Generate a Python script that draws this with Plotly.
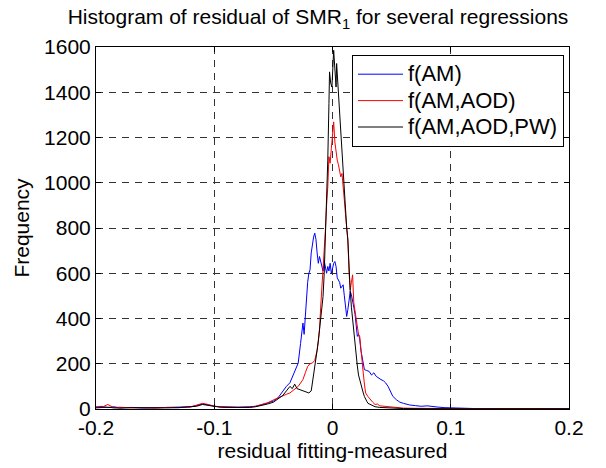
import plotly.graph_objects as go

# ---------------- data ----------------
am_x = [-0.2, -0.195, -0.19, -0.185, -0.18, -0.17, -0.16, -0.15, -0.14, -0.13, -0.12, -0.115, -0.11, -0.105,
        -0.1, -0.095, -0.09, -0.08, -0.07, -0.065, -0.06, -0.055, -0.05, -0.046, -0.042, -0.039, -0.036,
        -0.033, -0.031, -0.029, -0.027, -0.025, -0.024, -0.023, -0.022, -0.021, -0.020, -0.019, -0.018,
        -0.017, -0.016, -0.015, -0.014, -0.013, -0.012, -0.011, -0.010, -0.009, -0.008, -0.007, -0.006,
        -0.005, -0.004, -0.003, -0.002, -0.001, 0.000, 0.001, 0.002, 0.003, 0.004, 0.005, 0.006, 0.007,
        0.008, 0.009, 0.010, 0.011, 0.012, 0.013, 0.014, 0.015, 0.016, 0.017, 0.018, 0.019, 0.020, 0.021,
        0.022, 0.023, 0.024, 0.025, 0.026, 0.027, 0.029, 0.031, 0.033, 0.035, 0.037, 0.039, 0.041, 0.043,
        0.045, 0.047, 0.049, 0.051, 0.054, 0.057, 0.06, 0.065, 0.07, 0.075, 0.08, 0.085, 0.09, 0.095, 0.1,
        0.11, 0.12, 0.14, 0.16, 0.18, 0.2]
am_y = [8, 12, 6, 10, 5, 7, 4, 6, 5, 8, 10, 15, 22, 18,
        12, 10, 9, 8, 10, 12, 18, 25, 35, 50, 80, 100, 116,
        150, 175, 203, 290, 380, 330, 420, 497, 560, 600, 615, 690,
        733, 760, 777, 750, 690, 644, 674, 650, 630, 610, 655, 620,
        600, 630, 610, 644, 600, 620, 644, 652, 630, 580, 571, 560, 534,
        545, 549, 500, 440, 409, 440, 497, 520, 505, 483, 450, 420, 360, 321,
        330, 310, 260, 232, 200, 174, 170, 166, 150, 160, 144, 135, 130, 125,
        115, 100, 75, 56, 41, 30, 25, 18, 15, 12, 14, 10, 8, 6, 5,
        3, 2, 2, 1, 1, 1]

aod_x = [-0.2, -0.195, -0.19, -0.185, -0.18, -0.17, -0.16, -0.15, -0.14, -0.13, -0.12, -0.115, -0.11, -0.105,
         -0.1, -0.095, -0.09, -0.08, -0.07, -0.065, -0.06, -0.055, -0.05, -0.046, -0.042, -0.039, -0.036,
         -0.033, -0.031, -0.029, -0.027, -0.025, -0.023, -0.021, -0.019, -0.017, -0.015, -0.014, -0.013,
         -0.012, -0.011, -0.010, -0.009, -0.008, -0.007, -0.006, -0.005, -0.004, -0.003, -0.002, -0.001,
         0.000, 0.001, 0.002, 0.003, 0.004, 0.005, 0.006, 0.007, 0.008, 0.009, 0.010, 0.011, 0.012, 0.013,
         0.014, 0.015, 0.016, 0.017, 0.018, 0.019, 0.020, 0.021, 0.022, 0.023, 0.024, 0.025, 0.026, 0.027,
         0.028, 0.030, 0.032, 0.034, 0.036, 0.038, 0.040, 0.045, 0.05, 0.055, 0.06, 0.07, 0.08, 0.1, 0.12,
         0.15, 0.18, 0.2]
aod_y = [10, 8, 20, 6, 8, 5, 6, 4, 7, 6, 9, 18, 25, 20,
         12, 10, 8, 7, 8, 12, 20, 27, 40, 50, 60, 65, 71,
         85, 95, 100, 115, 130, 160, 188, 200, 203, 215, 232, 260,
         300, 350, 450, 530, 600, 700, 791, 900, 980, 1115, 1086, 1150,
         1220, 1269, 1180, 1130, 1100, 1080, 1056, 1026, 1041, 960, 924, 860, 800, 747,
         600, 527, 560, 593, 470, 430, 394, 360, 330, 321, 260, 190, 159, 110,
         71, 55, 41, 30, 20, 22, 14, 12, 8, 5, 4, 3, 2, 2, 1,
         2, 1, 1]

pw_x = [-0.2, -0.195, -0.19, -0.185, -0.18, -0.17, -0.16, -0.15, -0.14, -0.13, -0.12, -0.115, -0.11, -0.105,
        -0.1, -0.095, -0.09, -0.08, -0.07, -0.065, -0.06, -0.055, -0.05, -0.046, -0.042, -0.039, -0.036,
        -0.034, -0.032, -0.030, -0.028, -0.026, -0.024, -0.022, -0.020, -0.018, -0.017, -0.016, -0.015,
        -0.014, -0.013, -0.012, -0.011, -0.010, -0.009, -0.008, -0.007, -0.006, -0.005, -0.004, -0.003,
        -0.0025, -0.0015, -0.0005, 0.001, 0.002, 0.003, 0.0035, 0.005, 0.006, 0.007, 0.008, 0.009, 0.010,
        0.011, 0.012, 0.013, 0.014, 0.015, 0.016, 0.017, 0.018, 0.019, 0.020, 0.021, 0.022, 0.023, 0.024,
        0.025, 0.026, 0.027, 0.028, 0.029, 0.030, 0.032, 0.034, 0.036, 0.04, 0.045, 0.05, 0.06, 0.08, 0.1,
        0.15, 0.2]
pw_y = [5, 6, 8, 5, 4, 6, 5, 4, 5, 6, 8, 12, 20, 16,
        10, 8, 7, 6, 7, 10, 15, 22, 30, 45, 60, 80, 100,
        90, 110, 90, 86, 80, 78, 75, 71, 80, 115, 150, 180,
        203, 260, 300, 350, 400, 450, 497, 600, 747, 900, 1100, 1350,
        1490, 1440, 1423, 1585, 1480, 1423, 1527, 1400, 1300, 1180, 1100, 1026, 924,
        866, 800, 747, 600, 520, 450, 394, 336, 290, 247, 190, 150, 130, 100,
        85, 71, 55, 40, 34, 25, 20, 15, 10, 7, 5, 3, 2, 1, 1,
        1, 1]

series_names = ["f(AM)", "f(AM,AOD)", "f(AM,AOD,PW)"]
series_colors = ["#0000ff", "#ff0000", "#000000"]

x_ticks = [-0.2, -0.1, 0, 0.1, 0.2]
x_tick_labels = ["-0.2", "-0.1", "0", "0.1", "0.2"]
y_ticks = [0, 200, 400, 600, 800, 1000, 1200, 1400, 1600]

# ---------------- figure ----------------
fig = go.Figure()
for xs, ys, name, col in zip([am_x, aod_x, pw_x], [am_y, aod_y, pw_y], series_names, series_colors):
    fig.add_trace(go.Scatter(x=xs, y=ys, mode="lines",
                             name='<span style="font-size:22px">' + name + '</span>',
                             line=dict(color=col, width=1)))

font_family = "Liberation Sans, Arial, sans-serif"
FS = 21
axis_common = dict(showline=True, linecolor="black", linewidth=1, mirror="ticks",
                   ticks="inside", ticklen=5, tickcolor="black",
                   showgrid=True, gridcolor="#333333", gridwidth=1, griddash="7px,6px",
                   zeroline=False, tickfont=dict(size=FS, color="black", family=font_family))

# page body has an 8px margin, so the figure is 8px smaller than the window
fig.update_layout(
    width=598, height=460,
    paper_bgcolor="white", plot_bgcolor="white",
    margin=dict(l=88, r=37, t=39, b=59),
    font=dict(family=font_family, color="black", size=FS),
    title=dict(text="Histogram of residual of SMR<sub>1</sub> for several regressions",
               x=310 / 598, xanchor="center", y=1 - 9 / 460, yanchor="middle",
               font=dict(size=FS, color="black")),
    xaxis=dict(range=[-0.2, 0.2], tickvals=x_ticks, ticktext=x_tick_labels,
               title=dict(text="residual fitting-measured", font=dict(size=FS), standoff=2),
               **axis_common),
    yaxis=dict(range=[0, 1600], tickvals=y_ticks,
               title=dict(text="Frequency", font=dict(size=FS), standoff=8),
               **axis_common),
    legend=dict(x=(556 - 88) / 473, xanchor="right", y=(401 - 47) / 362, yanchor="top",
                bgcolor="white", bordercolor="black", borderwidth=1,
                font=dict(size=18, color="black"), tracegroupgap=0, itemwidth=45),
    showlegend=True,
)

fig.write_html("out.html")
